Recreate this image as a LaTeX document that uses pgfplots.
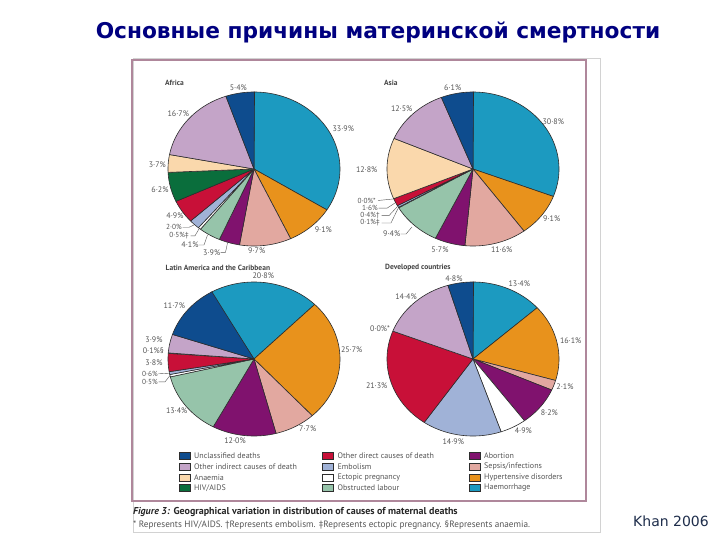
\documentclass[border=0pt]{standalone}
\usepackage{pgfplots}
\pgfplotsset{compat=1.18}
\usepackage{fontspec}
\setmainfont{DejaVu Sans}
\newfontfamily\figfont{PT Sans}
\definecolor{hae}{RGB}{28,154,192}
\definecolor{hyp}{RGB}{232,146,28}
\definecolor{sep}{RGB}{226,168,160}
\definecolor{abo}{RGB}{128,18,110}
\definecolor{obs}{RGB}{150,196,170}
\definecolor{ect}{RGB}{255,255,255}
\definecolor{emb}{RGB}{160,178,215}
\definecolor{odc}{RGB}{200,16,56}
\definecolor{hiv}{RGB}{10,110,60}
\definecolor{ana}{RGB}{250,216,172}
\definecolor{oic}{RGB}{196,164,200}
\definecolor{unc}{RGB}{14,76,142}
\definecolor{edgec}{RGB}{45,45,45}
\definecolor{labc}{RGB}{85,85,85}
\definecolor{framec}{RGB}{175,135,155}
\definecolor{titlec}{RGB}{0,0,128}
\definecolor{khanc}{RGB}{30,45,75}

% draw the wedges of one pie: #1 start angle, #2 list value/colour (clockwise)
\newcommand\piewedges[2]{%
  \gdef\piecum{0}%
  \foreach \v/\c in {#2}{%
    \pgfmathsetmacro\aA{#1-3.6*\piecum}%
    \pgfmathsetmacro\aB{#1-3.6*(\piecum+\v)}%
    \pgfmathsetmacro\newcum{\piecum+\v}%
    \xdef\piecum{\newcum}%
    \edef\temp{\noexpand\addplot[fill=\c, draw=edgec, line width=0.6pt, line join=round, domain=\aB:\aA, samples=60, data cs=polar, forget plot] ({x},{1}) -- (axis cs:0,0) -- cycle;}%
    \temp
  }%
}
\pgfplotsset{pie/.style={anchor=center, x=86pt, y=77pt, xmin=-1.3, xmax=1.3, ymin=-1.3, ymax=1.3, hide axis, clip=false}}

\begin{document}
\begin{tikzpicture}[x=1pt,y=-1pt,
  lab/.style={font=\figfont\fontsize{8}{9}\selectfont, text=labc, inner sep=0pt},
  slab/.style={font=\figfont\fontsize{7.3}{8}\selectfont, text=labc, inner sep=0pt},
  ttl/.style={font=\figfont\bfseries\fontsize{7.5}{8}\selectfont, text=labc!80!black, inner sep=0pt, anchor=west},
  ldr/.style={draw=labc, line width=0.4pt}]
\fill[white] (0,0) rectangle (720,540);
\path[use as bounding box] (0,0) rectangle (720,540);

\node[font=\bfseries\fontsize{21.7}{26}\selectfont, text=titlec, inner sep=0pt] at (378,32) {Основные причины материнской смертности};
\node[font=\fontsize{14}{16}\selectfont, text=khanc, inner sep=0pt, anchor=east] at (709,521) {Khan 2006};

\draw[gray!35, line width=0.5pt] (133,58) rectangle (600,532);
\draw[framec, line width=1.2pt] (132,60) rectangle (586,501);

% Africa
\begin{axis}[pie, at={(254pt,-169pt)}]
\piewedges{90}{33.9/hae, 9.1/hyp, 9.7/sep, 3.9/abo, 4.1/obs, 0.5/ect, 2.0/emb, 4.9/odc, 6.2/hiv, 3.7/ana, 16.7/oic, 5.4/unc}
\end{axis}
% Asia
\begin{axis}[pie, at={(473pt,-169pt)}]
\piewedges{90}{30.8/hae, 9.1/hyp, 11.6/sep, 5.7/abo, 9.4/obs, 0.1/ect, 0.4/emb, 1.6/odc, 12.8/ana, 12.5/oic, 6.1/unc}
\end{axis}
% Latin America
\begin{axis}[pie, at={(254pt,-359pt)}]
\piewedges{120}{20.8/hae, 25.7/hyp, 7.7/sep, 12.0/abo, 13.4/obs, 0.5/ect, 0.6/emb, 3.8/odc, 0.1/ana, 3.9/oic, 11.7/unc}
\end{axis}
% Developed
\begin{axis}[pie, at={(473pt,-359pt)}]
\piewedges{90}{13.4/hae, 16.1/hyp, 2.1/sep, 8.2/abo, 4.9/ect, 14.9/emb, 21.3/odc, 14.4/oic, 4.8/unc}
\end{axis}

% panel titles
\node[ttl] at (165,82.5) {Africa};
\node[ttl] at (384,82.5) {Asia};
\node[ttl] at (165.5,267.5) {Latin America and the Caribbean};
\node[ttl] at (385,267.5) {Developed countries};

% Africa labels
\node[lab] at (238.3,87.3) {5·4\%};
\node[lab] at (343.3,129) {33·9\%};
\node[lab] at (178.3,113.3) {16·7\%};
\node[lab] at (157.3,164.3) {3·7\%};
\node[lab] at (160,189.3) {6·2\%};
\node[lab] at (175,215.3) {4·9\%};
\node[slab] at (174,227.3) {2·0\%};
\node[slab] at (179,235.8) {0·5\%‡};
\node[lab] at (190,245) {4·1\%};
\node[lab] at (211.7,252.3) {3·9\%};
\node[lab] at (256.7,251) {9·7\%};
\node[lab] at (323.3,229.3) {9·1\%};
\draw[ldr] (182.5,227.3) -- (189,227.3) -- (194,225);
\draw[ldr] (190.5,235.8) -- (195,235.8) -- (199,229);
\draw[ldr] (198.5,245) -- (204,245) -- (207.5,235);
\draw[ldr] (220.5,252.3) -- (225.5,252.3) -- (227.5,243);

% Asia labels
\node[lab] at (452.7,87.3) {6·1\%};
\node[lab] at (553.3,121.7) {30·8\%};
\node[lab] at (401.7,108.3) {12·5\%};
\node[lab] at (366.7,169.3) {12·8\%};
\node[slab] at (366.7,200.5) {0·0\%*};
\node[slab] at (370,208.2) {1·6\%};
\node[slab] at (370,215.6) {0·4\%†};
\node[slab] at (370,223) {0·1\%‡};
\node[lab] at (391.7,234) {9·4\%};
\node[lab] at (440,250) {5·7\%};
\node[lab] at (501.7,250) {11·6\%};
\node[lab] at (551.7,218.3) {9·1\%};
\draw[ldr] (378,200.5) -- (393,199);
\draw[ldr] (378.5,208.2) -- (387,208.2) -- (395,203);
\draw[ldr] (381.5,215.6) -- (389,215.6) -- (397,207);
\draw[ldr] (381.5,223) -- (391,223) -- (398,208.5);
\draw[ldr] (400.5,234) -- (406,234) -- (412,227);

% Latin America labels
\node[lab] at (263.3,275.7) {20·8\%};
\node[lab] at (174.3,305.7) {11·7\%};
\node[lab] at (154,339.3) {3·9\%};
\node[lab] at (153.3,351) {0·1\%§};
\node[lab] at (154,362.3) {3·8\%};
\node[slab] at (150,373.8) {0·6\%};
\node[slab] at (150,381.9) {0·5\%};
\node[lab] at (176.7,410.7) {13·4\%};
\node[lab] at (307.7,429) {7·7\%};
\node[lab] at (235,441) {12·0\%};
\node[lab] at (351.7,350) {25·7\%};
\draw[ldr] (158.5,373.8) -- (169.5,373.2);
\draw[ldr] (158.5,381.9) -- (165,381.9) -- (170,375.5);

% Developed labels
\node[lab] at (454,278.7) {4·8\%};
\node[lab] at (519.3,284) {13·4\%};
\node[lab] at (406,296.7) {14·4\%};
\node[lab] at (380,329) {0·0\%*};
\node[lab] at (570.7,340.7) {16·1\%};
\node[lab] at (376.7,385.7) {21·3\%};
\node[lab] at (565,386.7) {2·1\%};
\node[lab] at (549.3,412.3) {8·2\%};
\node[lab] at (523.3,430.7) {4·9\%};
\node[lab] at (453.3,441.7) {14·9\%};

% legend
\foreach \x/\y/\c/\t in {
  179/456/unc/{Unclassified deaths},
  179/466.7/oic/{Other indirect causes of death},
  179/477.3/ana/{Anaemia},
  179/488/hiv/{HIV/AIDS},
  322.5/456/odc/{Other direct causes of death},
  322.5/466.7/emb/{Embolism},
  322.5/477.3/ect/{Ectopic pregnancy},
  322.5/488/obs/{Obstructed labour},
  469/456/abo/{Abortion},
  469/466.7/sep/{Sepsis/infections},
  469/477.3/hyp/{Hypertensive disorders},
  469/488/hae/{Haemorrhage}}{
  \filldraw[fill=\c, draw=edgec, line width=0.5pt] (\x,\y-3.5) rectangle (\x+11,\y+3.5);
  \node[lab, anchor=west, font=\figfont\fontsize{8}{9}\selectfont] at (\x+15,\y) {\t};
}

% caption
\node[inner sep=0pt, anchor=west, text=black!85, font=\figfont\bfseries\fontsize{10}{12}\selectfont] at (133,512) {\textit{Figure 3:} Geographical variation in distribution of causes of maternal deaths};
\node[inner sep=0pt, anchor=west, text=labc, font=\figfont\fontsize{9.2}{10}\selectfont] at (133,525) {* Represents HIV/AIDS. †Represents embolism. ‡Represents ectopic pregnancy. §Represents anaemia.};
\end{tikzpicture}
\end{document}
